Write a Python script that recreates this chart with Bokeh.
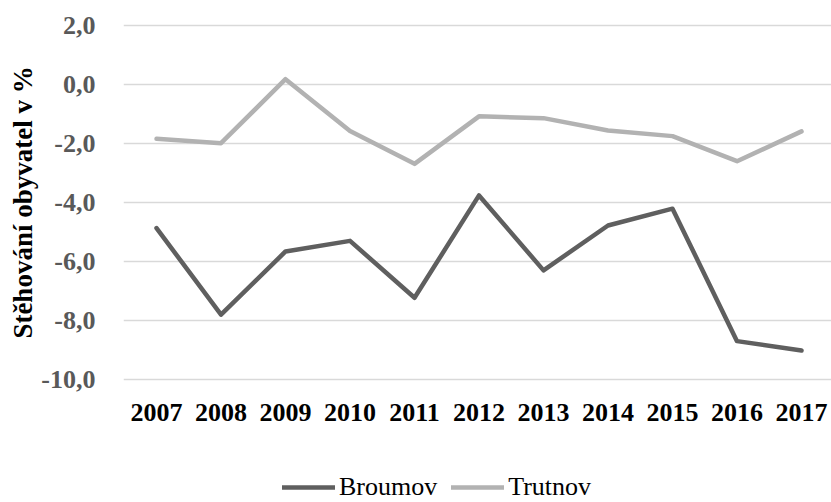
from bokeh.plotting import figure
from bokeh.models import Range1d, FixedTicker, Legend, LegendItem
from bokeh.layouts import column
from bokeh.embed import file_html
from bokeh.resources import INLINE

years = [2007, 2008, 2009, 2010, 2011, 2012, 2013, 2014, 2015, 2016, 2017]
broumov = [-4.87, -7.80, -5.66, -5.30, -7.23, -3.76, -6.30, -4.78, -4.21, -8.70, -9.02]
trutnov = [-1.84, -1.99, 0.18, -1.58, -2.69, -1.08, -1.14, -1.56, -1.75, -2.60, -1.59]
y_ticks = [-10, -8, -6, -4, -2, 0, 2]
y_tick_labels = ["-10,0", "-8,0", "-6,0", "-4,0", "-2,0", "0,0", "2,0"]
series_names = ["Broumov", "Trutnov"]
ylabel = "Stěhování obyvatel v %"
colors = ["#5f5f5f", "#b2b2b2"]

FONT = "Liberation Serif"

p = figure(width=831, height=440, output_backend="svg", toolbar_location=None,
           x_range=Range1d(2006.488, 2017.465), y_range=Range1d(-10.068, 2.068),
           min_border_left=123, min_border_right=0, min_border_top=23, min_border_bottom=59)
p.outline_line_color = None
p.background_fill_color = "white"
p.border_fill_color = "white"

p.xgrid.visible = False
p.ygrid.grid_line_color = "#d9d9d9"
p.ygrid.grid_line_width = 1.5

p.xaxis.ticker = FixedTicker(ticks=years)
p.xaxis.major_label_overrides = {y: str(y) for y in years}
p.xaxis.axis_line_color = None
p.xaxis.major_tick_line_color = None
p.xaxis.minor_tick_line_color = None
p.xaxis.major_label_text_font = FONT
p.xaxis.major_label_text_font_style = "bold"
p.xaxis.major_label_text_font_size = "26px"
p.xaxis.major_label_text_color = "black"
p.xaxis.major_label_standoff = 16

p.yaxis.ticker = FixedTicker(ticks=y_ticks)
p.yaxis.major_label_overrides = dict(zip(y_ticks, y_tick_labels))
p.yaxis.axis_line_color = None
p.yaxis.major_tick_line_color = None
p.yaxis.minor_tick_line_color = None
p.yaxis.major_label_text_font = FONT
p.yaxis.major_label_text_font_style = "bold"
p.yaxis.major_label_text_font_size = "26px"
p.yaxis.major_label_text_color = "#595959"
p.yaxis.major_label_standoff = 22
p.yaxis.axis_label = ylabel
p.yaxis.axis_label_text_font = FONT
p.yaxis.axis_label_text_font_style = "bold"
p.yaxis.axis_label_text_font_size = "27px"
p.yaxis.axis_label_text_color = "black"
p.yaxis.axis_label_standoff = 0

p.line(years, broumov, line_color=colors[0], line_width=4.5, line_join="round", line_cap="round")
p.line(years, trutnov, line_color=colors[1], line_width=4.5, line_join="round", line_cap="round")

# legend strip below the chart (its lines lie outside the strip's visible range)
lg = figure(width=831, height=62, output_backend="svg", toolbar_location=None,
            x_axis_type=None, y_axis_type=None,
            x_range=Range1d(0, 1), y_range=Range1d(0, 1),
            min_border_left=0, min_border_right=0, min_border_top=0, min_border_bottom=0)
lg.grid.visible = False
lg.outline_line_color = None
lr1 = lg.line(years, broumov, line_color=colors[0], line_width=4.5, line_cap="round")
lr2 = lg.line(years, trutnov, line_color=colors[1], line_width=4.5, line_cap="round")
legend = Legend(items=[LegendItem(label=series_names[0], renderers=[lr1]),
                       LegendItem(label=series_names[1], renderers=[lr2])],
                orientation="horizontal", location=(159, 0),
                glyph_width=53, glyph_height=20, label_height=20,
                label_standoff=4, spacing=14, padding=0, margin=0,
                border_line_color=None, background_fill_alpha=0,
                label_text_font=FONT, label_text_font_size="26px", label_text_color="black")
lg.add_layout(legend, "center")

open("out.html", "w").write(file_html(column(p, lg, spacing=0), INLINE))
